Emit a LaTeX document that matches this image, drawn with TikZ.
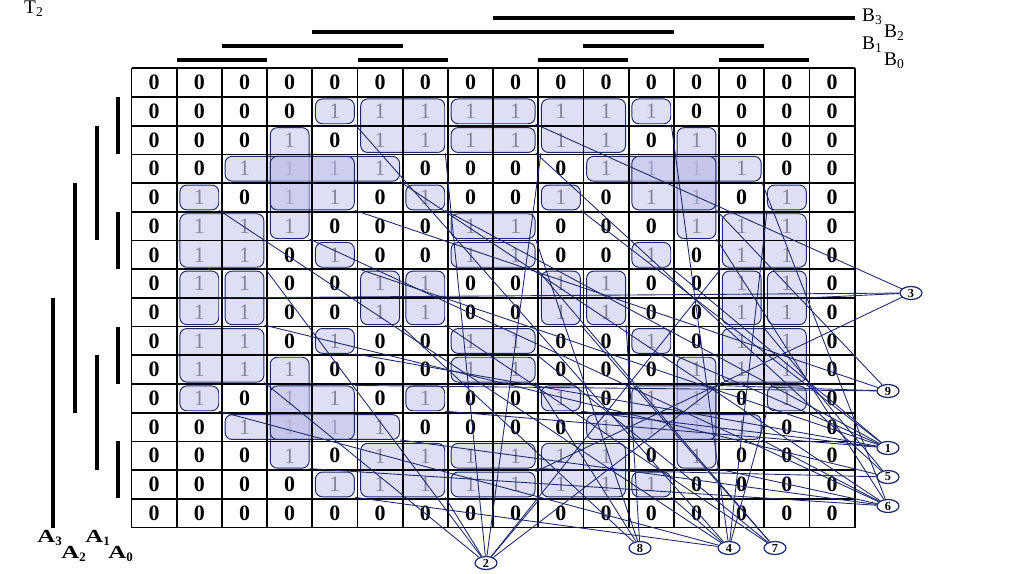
\documentclass[tikz,border=0pt]{standalone}
\usepackage{fontspec}
\setmainfont{Liberation Serif}
\usetikzlibrary{shapes.geometric, positioning, fit, calc}
\definecolor{navy}{RGB}{28,42,110}
\definecolor{lav}{RGB}{190,190,234}

\begin{document}
\begin{tikzpicture}[
        x=0.02cm, y=-0.02cm,
        cell/.style={minimum width=0.904cm, minimum height=0.574cm, inner sep=0pt, font=\fontsize{12.5}{13}\selectfont},
        grp/.style={draw=navy, line width=0.55pt, fill=lav, fill opacity=0.5, rounded corners=4pt, inner xsep=-2pt, inner ysep=-1.3pt},
        num/.style={ellipse, draw=navy, line width=0.7pt, fill=white, minimum width=0.44cm, minimum height=0.26cm, inner sep=0pt, font=\fontsize{7}{8}\selectfont\bfseries},
        bar/.style={line width=2.2pt},
        link/.style={navy, line width=0.5pt},
        lbl/.style={font=\fontsize{11}{12}\selectfont, inner sep=1pt}
    ]
        \useasboundingbox (0,0) rectangle (1024,574);

        \foreach \vals [count=\r from 0] in {
            {0,0,0,0,0,0,0,0,0,0,0,0,0,0,0,0},
            {0,0,0,0,1,1,1,1,1,1,1,1,0,0,0,0},
            {0,0,0,1,0,1,1,1,1,1,1,0,1,0,0,0},
            {0,0,1,1,1,1,0,0,0,0,1,1,1,1,0,0},
            {0,1,0,1,1,0,1,0,0,1,0,1,1,0,1,0},
            {0,1,1,1,0,0,0,1,1,0,0,0,1,1,1,0},
            {0,1,1,0,1,0,0,1,1,0,0,1,0,1,1,0},
            {0,1,1,0,0,1,1,0,0,1,1,0,0,1,1,0},
            {0,1,1,0,0,1,1,0,0,1,1,0,0,1,1,0},
            {0,1,1,0,1,0,0,1,1,0,0,1,0,1,1,0},
            {0,1,1,1,0,0,0,1,1,0,0,0,1,1,1,0},
            {0,1,0,1,1,0,1,0,0,1,0,1,1,0,1,0},
            {0,0,1,1,1,1,0,0,0,0,1,1,1,1,0,0},
            {0,0,0,1,0,1,1,1,1,1,1,0,1,0,0,0},
            {0,0,0,0,1,1,1,1,1,1,1,1,0,0,0,0},
            {0,0,0,0,0,0,0,0,0,0,0,0,0,0,0,0}} {
            \foreach \v [count=\c from 0] in \vals {
                \ifnum\v=1 \def\tc{black!70}\def\tw{\mdseries}\else\def\tc{black}\def\tw{\bfseries}\fi
                \node[cell, text=\tc] (k-\r-\c) at ({131.5+45.2*(\c+0.5)},{68.3+28.7*(\r+0.5)}) {\tw\v};
            }
        }

        \foreach \n/\ra/\ca/\rb/\cb in {
            a1/1/4/1/4, a2/1/11/1/11, a3/4/1/4/1, a4/4/14/4/14, a5/14/4/14/4, a6/14/11/14/11, a7/11/1/11/1, a8/11/14/11/14,
            b1/4/6/4/6, b2/4/9/4/9, b3/6/4/6/4, b4/6/11/6/11, b5/11/6/11/6, b6/11/9/11/9, b7/9/4/9/4, b8/9/11/9/11,
            c1/1/5/2/6, c2/1/9/2/10, c3/13/5/14/6, c4/13/9/14/10, c5/5/1/6/2, c6/5/13/6/14, c7/9/1/10/2, c8/9/13/10/14,
            d1/2/3/5/3, d2/2/12/5/12, d3/10/3/13/3, d4/10/12/13/12, d5/3/2/3/5, d6/3/10/3/13, d7/12/2/12/5, d8/12/10/12/13,
            e1/3/3/4/4, e2/3/11/4/12, e3/11/3/12/4, e4/11/11/12/12,
            f1/1/7/1/8, f2/14/7/14/8, f3/7/1/8/1, f4/7/14/8/14,
            g1/2/7/2/8, g2/13/7/13/8, g3/7/2/8/2, g4/7/13/8/13,
            h1/5/7/5/8, h2/10/7/10/8, h3/7/5/8/5, h4/7/10/8/10,
            i1/6/7/6/8, i2/9/7/9/8, i3/7/6/8/6, i4/7/9/8/9}
            \node[grp, fit=(k-\ra-\ca)(k-\rb-\cb)] (\n) {};

        \foreach \i in {0,...,16} {
            \draw[line width=1pt] ({131.5+45.2*\i},68.3) -- ({131.5+45.2*\i},527.5);
            \draw[line width=1pt] (131.5,{68.3+28.7*\i}) -- (854.7,{68.3+28.7*\i});
        }

        \draw[bar] (492.6,18) -- (854.7,18);
        \draw[bar] (312.3,32) -- (673.9,32);
        \draw[bar] (222,46) -- (402.5,46);
        \draw[bar] (583,46) -- (764,46);
        \foreach \xa in {177,358,538,719}
            \draw[bar] (\xa,60) -- ++(90,0);

        \foreach \ya in {97,212,327,441}
            \draw[bar] (118,\ya) -- ++(0,57);
        \draw[bar] (97,126) -- (97,240.5);
        \draw[bar] (97,355.3) -- (97,470);
        \draw[bar] (75,183) -- (75,412.7);
        \draw[bar] (53,298) -- (53,527.5);

        \node[lbl, anchor=west] (lb3) at (860,17) {B\textsubscript{3}};
        \node[lbl, anchor=west] (lb2) at (882,33) {B\textsubscript{2}};
        \node[lbl, anchor=west] (lb1) at (860,45) {B\textsubscript{1}};
        \node[lbl, anchor=west] (lb0) at (882,61) {B\textsubscript{0}};
        \node[lbl, font=\fontsize{10.5}{12}\selectfont\bfseries] (la3) at (50,538) {\scalebox{1.35}[1]{A}\textsubscript{3}};
        \node[lbl, font=\fontsize{10.5}{12}\selectfont\bfseries] (la1) at (98,538) {\scalebox{1.35}[1]{A}\textsubscript{1}};
        \node[lbl, font=\fontsize{10.5}{12}\selectfont\bfseries] (la2) at (74,554) {\scalebox{1.35}[1]{A}\textsubscript{2}};
        \node[lbl, font=\fontsize{10.5}{12}\selectfont\bfseries] (la0) at (121,554) {\scalebox{1.35}[1]{A}\textsubscript{0}};
        \node[anchor=base west, font=\fontsize{11}{13}\selectfont] (ttl) at (18,14) {T\textsubscript{2}};

        \node[num] (n3) at (911,293) {3};
        \node[num] (n9) at (888,391) {9};
        \node[num] (n1) at (888,448) {1};
        \node[num] (n5) at (888,477) {5};
        \node[num] (n6) at (888,506) {6};
        \node[num] (n2) at (486,563) {2};
        \node[num] (n8) at (640,548) {8};
        \node[num] (n4) at (729,548) {4};
        \node[num] (n7) at (775,548) {7};

        \foreach \s/\a/\t in {
            a1/south east/n4, a2/south east/n4, a3/south east/n4, a4/south west/n4, a5/south east/n4, a6/south east/n4, a7/south east/n4, a8/south west/n4,
            b1/south east/n1, b2/south east/n1, b3/south east/n1, b4/south east/n1, b5/south east/n1, b6/south east/n1, b7/south east/n1, b8/south east/n1,
            c1/south east/n2, c2/south west/n2, c3/south east/n2, c4/south west/n2, c5/south east/n2, c6/south west/n2, c7/south east/n2, c8/south west/n2,
            d1/south east/n6, d2/south east/n6, d3/south east/n6, d4/south east/n6, d5/south east/n6, d6/south east/n6, d7/south east/n6, d8/south east/n6,
            e1/south east/n9, e2/south east/n9, e3/north east/n9, e4/north east/n9,
            f1/south east/n3, f2/north east/n3, f3/east/n3, f4/east/n3,
            g1/south east/n5, g2/south east/n5, g3/south east/n5, g4/south east/n5,
            h1/south east/n8, h2/south east/n8, h3/south east/n8, h4/south east/n8,
            i1/south east/n7, i2/south east/n7, i3/south east/n7, i4/south east/n7}
            \draw[link] (\s.\a) -- (\t);
    \end{tikzpicture}
\end{document}
